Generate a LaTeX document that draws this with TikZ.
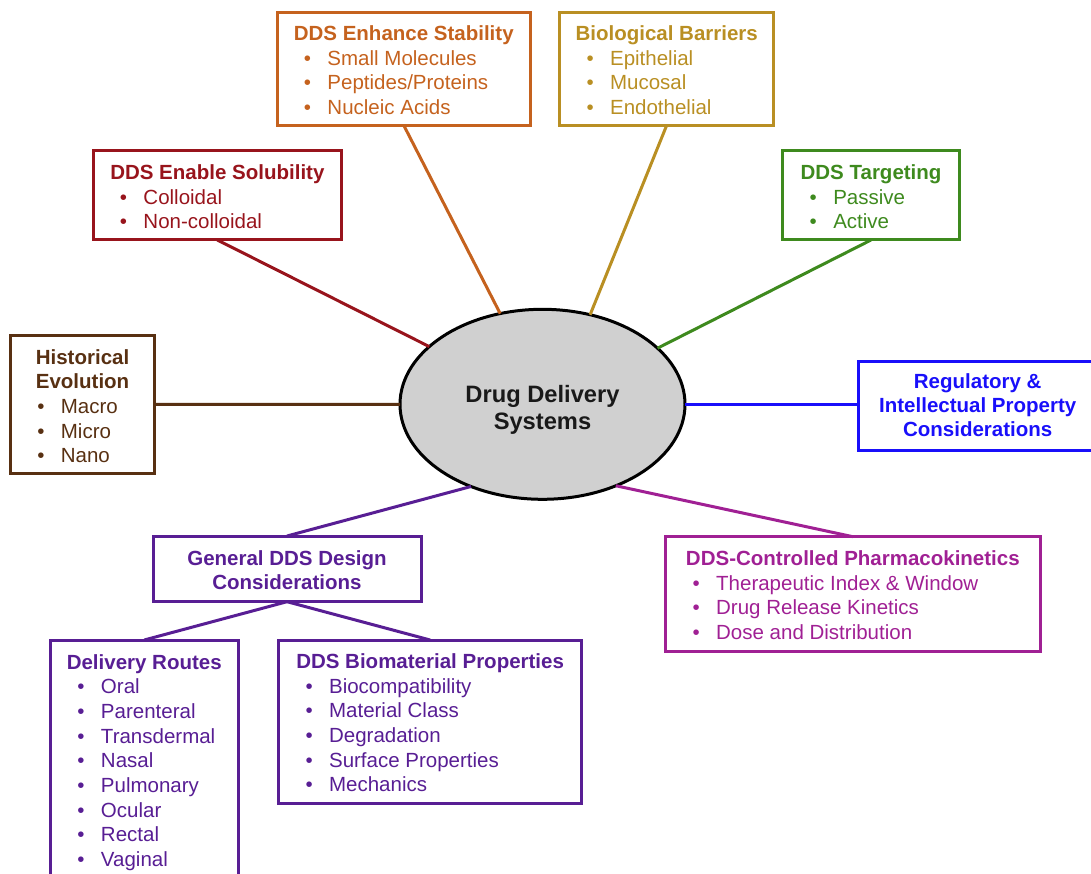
\documentclass[tikz,border=0pt]{standalone}
\usepackage{fontspec}
\setmainfont{Liberation Sans}
\usetikzlibrary{shapes.geometric,calc}
\definecolor{cEnh}{RGB}{197,98,30}
\definecolor{cBio}{RGB}{185,143,35}
\definecolor{cSol}{RGB}{152,20,28}
\definecolor{cTgt}{RGB}{62,138,30}
\definecolor{cHist}{RGB}{88,48,18}
\definecolor{cReg}{RGB}{25,15,250}
\definecolor{cPur}{RGB}{88,30,148}
\definecolor{cPk}{RGB}{160,32,148}
\definecolor{cGray}{RGB}{208,208,208}
\newcommand\ttl[2]{\makebox[#1][c]{\bfseries\rule{0pt}{15pt}#2}}
\newcommand\itm[1]{\hspace*{30.5pt}\makebox[0pt][c]{\textbullet}\hspace*{20pt}#1}
\begin{document}
\begin{tikzpicture}[x=1pt,y=1pt,
  box/.style={draw=#1, line width=3pt, rectangle, inner sep=0pt, outer sep=0pt, anchor=north west},
  txt/.style={text=#1, anchor=north west, inner sep=0pt, outer sep=0pt, align=left, font=\fontsize{20.5}{24.7}\selectfont},
  link/.style={draw=#1, line width=3pt}]
\useasboundingbox (0,0) rectangle (1091,-874);
\clip (0,0) rectangle (1091,-874);

% central ellipse
\node[ellipse, draw=black, fill=cGray, line width=3pt, minimum width=285pt, minimum height=190pt, inner sep=0pt, outer sep=0pt] (dds) at (542.5,-404.3) {};
\node[anchor=north, inner sep=0pt, align=center, text=black!90, font=\fontsize{23.7}{27.7}\selectfont\bfseries] (ddst) at ($(dds.center)+(0,19.5)$) {\rule{0pt}{17pt}Drug Delivery\\Systems};

% DDS Enhance Stability
\node[box=cEnh, minimum width=253.5pt, minimum height=112.6pt] (enh) at (277,-12.7) {};
\node[txt=cEnh] (enht) at ($(enh.north west)+(0,-12.65)$) {\ttl{253.5pt}{DDS Enhance Stability}\\\itm{Small Molecules}\\\itm{Peptides/Proteins}\\\itm{Nucleic Acids}};

% Biological Barriers
\node[box=cBio, minimum width=214.2pt, minimum height=112.6pt] (bio) at (559.6,-12.7) {};
\node[txt=cBio] (biot) at ($(bio.north west)+(0,-12.65)$) {\ttl{214.2pt}{Biological Barriers}\\\itm{Epithelial}\\\itm{Mucosal}\\\itm{Endothelial}};

% DDS Enable Solubility
\node[box=cSol, minimum width=248.7pt, minimum height=89pt] (sol) at (93,-151) {};
\node[txt=cSol] (solt) at ($(sol.north west)+(0,-13.35)$) {\ttl{248.7pt}{DDS Enable Solubility}\\\itm{Colloidal}\\\itm{Non-colloidal}};

% DDS Targeting
\node[box=cTgt, minimum width=176.5pt, minimum height=89pt] (tgt) at (782.8,-151) {};
\node[txt=cTgt] (tgtt) at ($(tgt.north west)+(0,-13.35)$) {\ttl{176.5pt}{DDS Targeting}\\\itm{Passive}\\\itm{Active}};

% Historical Evolution
\node[box=cHist, minimum width=144.3pt, minimum height=137.3pt] (hist) at (10.4,-335.7) {};
\node[txt=cHist] (histt) at ($(hist.north west)+(0,-13.35)$) {\ttl{144.3pt}{Historical}\\\ttl{144.3pt}{Evolution}\\\itm{Macro}\\\itm{Micro}\\\itm{Nano}};

% Regulatory
\node[box=cReg, minimum width=238.6pt, minimum height=89.5pt] (reg) at (858.4,-361) {};
\node[txt=cReg, font=\fontsize{20.5}{24}\selectfont] (regt) at ($(reg.north west)+(0,-12.35)$) {\ttl{238.6pt}{Regulatory \&}\\\ttl{238.6pt}{Intellectual Property}\\\ttl{238.6pt}{Considerations}};

% General DDS Design Considerations
\node[box=cPur, minimum width=268pt, minimum height=65.7pt] (gen) at (153,-536) {};
\node[txt=cPur, font=\fontsize{20.5}{23.7}\selectfont] (gent) at ($(gen.north west)+(0,-14.35)$) {\ttl{268pt}{General DDS Design}\\\ttl{268pt}{Considerations}};

% Delivery Routes
\node[box=cPur, minimum width=187.5pt, minimum height=250pt] (deliv) at (50.5,-640) {};
\node[txt=cPur] (delivt) at ($(deliv.north west)+(0,-14.05)$) {\ttl{187.5pt}{Delivery Routes}\\\itm{Oral}\\\itm{Parenteral}\\\itm{Transdermal}\\\itm{Nasal}\\\itm{Pulmonary}\\\itm{Ocular}\\\itm{Rectal}\\\itm{Vaginal}};

% DDS Biomaterial Properties
\node[box=cPur, minimum width=303.1pt, minimum height=163pt] (biomat) at (278.6,-640) {};
\node[txt=cPur] (biomatt) at ($(biomat.north west)+(0,-13.35)$) {\ttl{303.1pt}{DDS Biomaterial Properties}\\\itm{Biocompatibility}\\\itm{Material Class}\\\itm{Degradation}\\\itm{Surface Properties}\\\itm{Mechanics}};

% DDS-Controlled Pharmacokinetics
\node[box=cPk, minimum width=374.3pt, minimum height=114.3pt] (pk) at (665.7,-536.7) {};
\node[txt=cPk] (pkt) at ($(pk.north west)+(0,-13.65)$) {\ttl{374.3pt}{DDS-Controlled Pharmacokinetics}\\\itm{Therapeutic Index \& Window}\\\itm{Drug Release Kinetics}\\\itm{Dose and Distribution}};

% connectors
\draw[link=cEnh] (enh.south) -- (dds.115.8);
\draw[link=cBio] (bio.south) -- (dds.62.9);
\draw[link=cSol] (sol.south) -- (dds.153.8);
\draw[link=cTgt] (tgt.south) -- (dds.26);
\draw[link=cHist] (hist.east) -- (dds.west);
\draw[link=cReg] (dds.east) -- (dds.east -| reg.west);
\draw[link=cPur] (gen.north) -- (dds.229.2);
\draw[link=cPk] (dds.312) -- (pk.north);
\draw[link=cPur] (gen.south) -- (deliv.north);
\draw[link=cPur] (gen.south) -- (biomat.north);
\end{tikzpicture}
\end{document}
